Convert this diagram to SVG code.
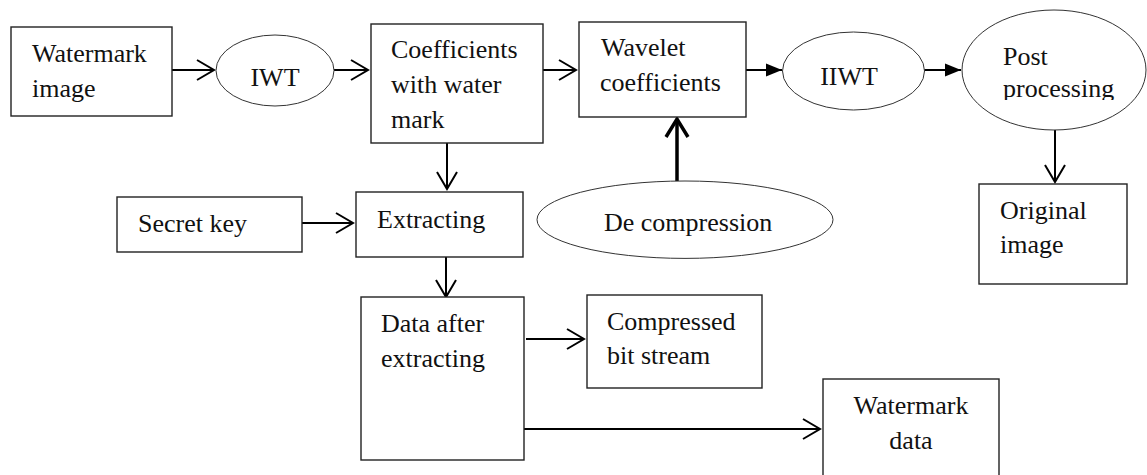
<svg xmlns="http://www.w3.org/2000/svg" width="1147" height="475" viewBox="0 0 1147 475">
<style>
.box{fill:#fff;stroke:#222;stroke-width:1.4}
.ell{fill:#fff;stroke:#333;stroke-width:1}
.t{font-family:"Liberation Serif","Times New Roman",Tinos,"DejaVu Serif",serif;font-size:26px;fill:#111}
.c{fill:none;stroke:#000;stroke-width:2}
.thick{fill:none;stroke:#000;stroke-width:3.5}
</style>
<defs>
<marker id="open" markerUnits="userSpaceOnUse" markerWidth="30" markerHeight="30" viewBox="-20 -15 25 30" refX="0" refY="0" orient="auto">
<path d="M-17,-10 L0,0 L-17,10" fill="none" stroke="#000" stroke-width="2"/>
</marker>
<marker id="fill" markerUnits="userSpaceOnUse" markerWidth="30" markerHeight="30" viewBox="-20 -15 25 30" refX="0" refY="0" orient="auto">
<path d="M-16,-6.5 L0,0 L-16,6.5 Z" fill="#000"/>
</marker>
<marker id="openThick" markerUnits="userSpaceOnUse" markerWidth="30" markerHeight="30" viewBox="-20 -15 25 30" refX="0" refY="0" orient="auto">
<path d="M-18,-11 L0,0 L-18,11" fill="none" stroke="#000" stroke-width="3.5"/>
</marker>
<clipPath id="clipPost"><rect x="960" y="0" width="187" height="100"/></clipPath>
</defs>

<g id="connectors">
<path class="c" d="M172,70 L214,70" marker-end="url(#open)"/>
<path class="c" d="M334,70 L368,70" marker-end="url(#open)"/>
<path class="c" d="M541,70 L576,70" marker-end="url(#open)"/>
<path class="c" d="M746,70 L782,70" marker-end="url(#fill)"/>
<path class="c" d="M924,70 L961,70" marker-end="url(#fill)"/>
<path class="c" d="M1055,130 L1055,182" marker-end="url(#open)"/>
<path class="c" d="M447,143 L447,189" marker-end="url(#open)"/>
<path class="c" d="M302,223 L353,223" marker-end="url(#open)"/>
<path class="thick" d="M677,181 L677,119" marker-end="url(#openThick)"/>
<path class="c" d="M446,257 L446,297" marker-end="url(#open)"/>
<path class="c" d="M526,339 L584,339" marker-end="url(#open)"/>
<path class="c" d="M522,429 L820,429" marker-end="url(#open)"/>
</g>

<g id="watermark-image">
<rect class="box" x="11" y="27" width="161" height="89"/>
<text class="t" font-family="Liberation Serif, serif" x="32" y="62">Watermark</text>
<text class="t" font-family="Liberation Serif, serif" x="32" y="97">image</text>
</g>

<g id="iwt">
<ellipse class="ell" cx="275" cy="70.5" rx="59" ry="35.5"/>
<text class="t" x="275" y="86" text-anchor="middle">IWT</text>
</g>

<g id="coefficients-watermark">
<rect class="box" x="371" y="24" width="172" height="119"/>
<text class="t" x="391" y="58">Coefficients</text>
<text class="t" x="391" y="93">with water</text>
<text class="t" x="391" y="128">mark</text>
</g>

<g id="wavelet-coefficients">
<rect class="box" x="579" y="22" width="167" height="95"/>
<text class="t" x="601" y="56">Wavelet</text>
<text class="t" x="600" y="91">coefficients</text>
</g>

<g id="iiwt">
<ellipse class="ell" cx="853.5" cy="71" rx="71" ry="39"/>
<text class="t" x="849" y="85" text-anchor="middle">IIWT</text>
</g>

<g id="post-processing">
<ellipse class="ell" cx="1054" cy="70" rx="92" ry="60"/>
<text class="t" x="1003" y="65">Post</text>
<text class="t" x="1003" y="97" clip-path="url(#clipPost)">processing</text>
</g>

<g id="original-image">
<rect class="box" x="979" y="184" width="148" height="100"/>
<text class="t" x="1000" y="219">Original</text>
<text class="t" x="1000" y="253">image</text>
</g>

<g id="secret-key">
<rect class="box" x="117" y="197" width="185" height="55"/>
<text class="t" x="138" y="232">Secret key</text>
</g>

<g id="extracting">
<rect class="box" x="356" y="192" width="167" height="65"/>
<text class="t" x="377" y="228">Extracting</text>
</g>

<g id="de-compression">
<ellipse class="ell" cx="685" cy="219.7" rx="148" ry="38.7"/>
<text class="t" x="604" y="231">De compression</text>
</g>

<g id="data-after-extracting">
<rect class="box" x="361" y="297" width="163" height="163"/>
<text class="t" x="381" y="332">Data after</text>
<text class="t" x="381" y="367">extracting</text>
</g>

<g id="compressed-bit-stream">
<rect class="box" x="587" y="295" width="175" height="93"/>
<text class="t" x="607" y="330">Compressed</text>
<text class="t" x="607" y="364">bit stream</text>
</g>

<g id="watermark-data">
<rect class="box" x="823" y="379" width="176" height="110"/>
<text class="t" x="911" y="414" text-anchor="middle">Watermark</text>
<text class="t" x="911" y="449" text-anchor="middle">data</text>
</g>
</svg>
